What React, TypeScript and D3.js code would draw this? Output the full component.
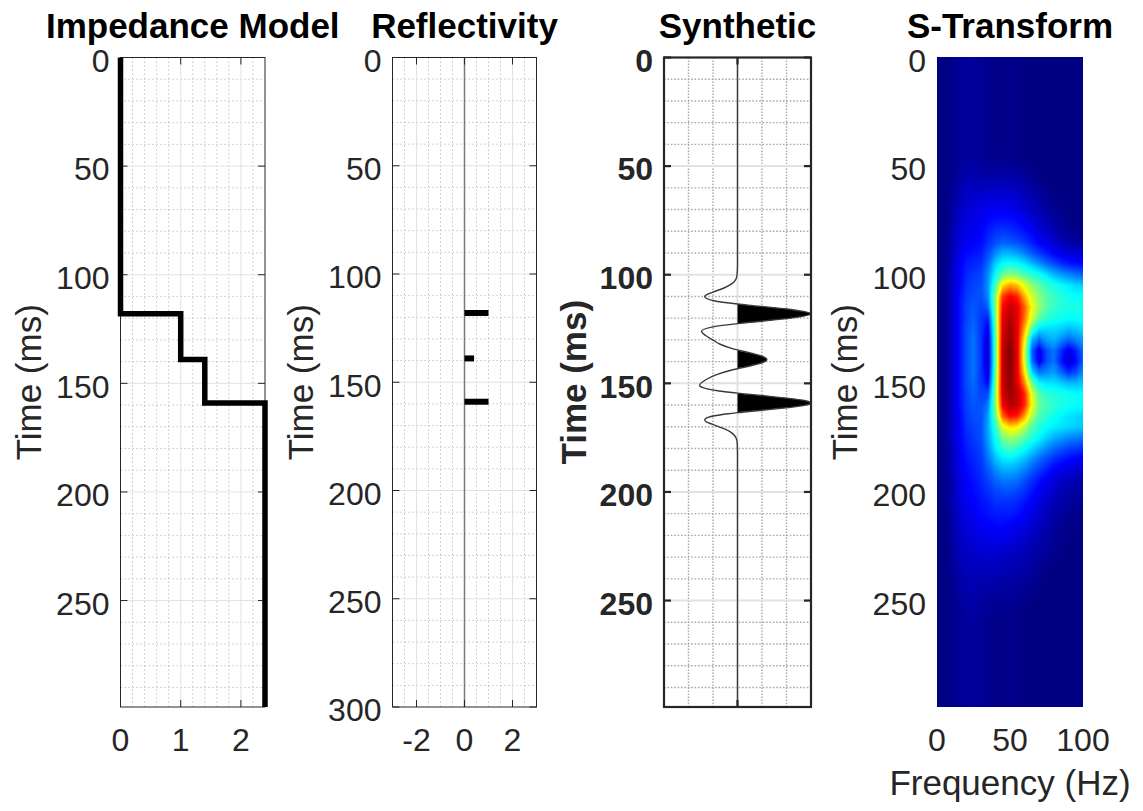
import React from 'react';
import * as d3 from 'd3';

// ---------------- data ----------------
const TIME_TICKS = [0, 50, 100, 150, 200, 250];
const REFL_TIME_TICKS = [0, 50, 100, 150, 200, 250, 300];

// Impedance model (step function in time)
const IMP_TIMES = [0, 118, 139, 159, 299];
const IMP_VALUES = [0, 1, 1.4, 2.4, 2.4];
const IMP_XTICKS = [0, 1, 2];

// Reflectivity spikes
const REFL_TIMES = [118, 139, 159];
const REFL_VALUES = [1, 0.4, 1];
const REFL_XTICKS = [-2, 0, 2];

// Synthetic trace (time ms, amplitude)
const SYN_TIMES = [0, 96, 100, 102, 104, 106, 108, 110, 112, 113.5, 114, 116, 118, 120, 122, 122.5, 124, 126, 128, 130, 132, 134, 134.6, 136, 138, 139, 140, 142, 143.3, 144, 146, 148, 151, 152, 154, 154.5, 156, 158, 159, 160, 162, 163.5, 164, 166, 167, 168, 170, 172, 174, 176, 178, 182, 299];
const SYN_AMPS = [0, 0, -0.02, -0.06, -0.21, -0.53, -1.0, -1.34, -0.96, 0, 0.43, 2.18, 3.0, 2.18, 0.41, 0, -1.0, -1.47, -1.3, -1.01, -0.71, -0.21, 0, 0.52, 1.11, 1.2, 1.11, 0.5, 0, -0.27, -0.85, -1.24, -1.55, -1.41, -0.43, 0, 1.32, 2.78, 3.0, 2.78, 1.34, 0, -0.38, -1.27, -1.34, -1.22, -0.75, -0.34, -0.12, -0.03, -0.01, 0, 0];

// S-Transform magnitude (normalised), frequency columns 0..100 Hz step 5
const ST_FREQS = [0, 5, 10, 15, 20, 25, 30, 35, 40, 45, 50, 55, 60, 65, 70, 75, 80, 85, 90, 95, 100];
const ST_TIMES = d3.range(0, 301, 5);
const ST_BG = [0, 0, 0.01, 0.02, 0.03, 0.03, 0.02, 0.015, 0.01, 0.01, 0.01, 0.01, 0, 0, 0, 0, 0, 0, 0, 0, 0];
const ST_ACTIVE_TIMES = [50, 55, 60, 65, 70, 75, 80, 85, 90, 95, 100, 105, 110, 115, 120, 125, 130, 135, 140, 145, 150, 155, 160, 165, 170, 175, 180, 185, 190, 195, 200, 205, 210, 215, 220, 225, 230, 235, 240, 245, 250, 255];
const ST_ACTIVE_ROWS = [
  [0, 0, 0.01, 0.025, 0.035, 0.035, 0.03, 0.025, 0.025, 0.025, 0.02, 0.02, 0.01, 0.005, 0, 0, 0, 0, 0, 0, 0],
  [0, 0, 0.01, 0.03, 0.045, 0.045, 0.04, 0.04, 0.04, 0.04, 0.04, 0.035, 0.025, 0.015, 0.005, 0, 0, 0, 0, 0, 0],
  [0, 0, 0.02, 0.04, 0.06, 0.06, 0.06, 0.065, 0.065, 0.065, 0.065, 0.055, 0.045, 0.03, 0.02, 0.01, 0, 0, 0, 0, 0],
  [0, 0, 0.02, 0.05, 0.07, 0.08, 0.08, 0.09, 0.09, 0.09, 0.09, 0.08, 0.06, 0.05, 0.03, 0.02, 0.01, 0, 0, 0, 0],
  [0, 0, 0.03, 0.06, 0.08, 0.09, 0.1, 0.11, 0.11, 0.12, 0.11, 0.1, 0.08, 0.06, 0.05, 0.03, 0.02, 0.01, 0, 0, 0],
  [0, 0, 0.03, 0.07, 0.09, 0.1, 0.11, 0.13, 0.14, 0.14, 0.14, 0.13, 0.11, 0.09, 0.07, 0.05, 0.03, 0.02, 0.01, 0, 0],
  [0, 0, 0.04, 0.08, 0.1, 0.11, 0.12, 0.15, 0.17, 0.18, 0.17, 0.16, 0.14, 0.12, 0.09, 0.07, 0.05, 0.03, 0.02, 0.01, 0.01],
  [0, 0.01, 0.04, 0.09, 0.11, 0.12, 0.13, 0.17, 0.2, 0.22, 0.21, 0.2, 0.18, 0.15, 0.12, 0.1, 0.08, 0.06, 0.04, 0.03, 0.02],
  [0, 0.01, 0.05, 0.1, 0.13, 0.14, 0.15, 0.2, 0.26, 0.3, 0.3, 0.28, 0.25, 0.21, 0.18, 0.15, 0.12, 0.1, 0.09, 0.08, 0.07],
  [0, 0.01, 0.05, 0.11, 0.15, 0.16, 0.17, 0.23, 0.33, 0.38, 0.39, 0.38, 0.35, 0.31, 0.27, 0.23, 0.2, 0.17, 0.15, 0.14, 0.13],
  [0, 0.01, 0.06, 0.12, 0.16, 0.18, 0.19, 0.26, 0.38, 0.48, 0.51, 0.49, 0.45, 0.42, 0.39, 0.35, 0.31, 0.28, 0.26, 0.24, 0.22],
  [0, 0.01, 0.06, 0.12, 0.17, 0.19, 0.2, 0.27, 0.45, 0.66, 0.72, 0.69, 0.6, 0.52, 0.47, 0.43, 0.4, 0.38, 0.36, 0.34, 0.33],
  [0, 0.01, 0.06, 0.13, 0.18, 0.2, 0.2, 0.26, 0.5, 0.82, 0.88, 0.84, 0.7, 0.58, 0.51, 0.46, 0.43, 0.41, 0.39, 0.38, 0.38],
  [0, 0.01, 0.06, 0.13, 0.19, 0.21, 0.19, 0.22, 0.5, 0.87, 0.93, 0.9, 0.78, 0.62, 0.52, 0.46, 0.43, 0.41, 0.4, 0.4, 0.4],
  [0, 0.01, 0.06, 0.13, 0.19, 0.22, 0.18, 0.15, 0.48, 0.9, 0.95, 0.9, 0.76, 0.58, 0.47, 0.42, 0.4, 0.39, 0.38, 0.38, 0.38],
  [0, 0.01, 0.06, 0.13, 0.2, 0.23, 0.18, 0.11, 0.46, 0.91, 0.97, 0.9, 0.7, 0.45, 0.35, 0.34, 0.34, 0.33, 0.31, 0.32, 0.34],
  [0, 0.01, 0.06, 0.13, 0.2, 0.24, 0.18, 0.08, 0.45, 0.92, 0.98, 0.9, 0.62, 0.3, 0.22, 0.28, 0.3, 0.26, 0.22, 0.25, 0.28],
  [0, 0.01, 0.06, 0.13, 0.2, 0.24, 0.18, 0.07, 0.45, 0.93, 1.0, 0.9, 0.58, 0.22, 0.1, 0.2, 0.24, 0.17, 0.1, 0.15, 0.23],
  [0, 0.01, 0.06, 0.13, 0.2, 0.24, 0.18, 0.07, 0.45, 0.93, 1.0, 0.9, 0.58, 0.24, 0.11, 0.2, 0.24, 0.15, 0.08, 0.13, 0.22],
  [0, 0.01, 0.06, 0.13, 0.2, 0.24, 0.18, 0.09, 0.46, 0.93, 0.99, 0.9, 0.64, 0.34, 0.24, 0.26, 0.28, 0.23, 0.17, 0.2, 0.26],
  [0, 0.01, 0.06, 0.13, 0.2, 0.23, 0.18, 0.13, 0.48, 0.93, 0.99, 0.91, 0.74, 0.48, 0.38, 0.35, 0.35, 0.33, 0.31, 0.31, 0.32],
  [0, 0.01, 0.06, 0.13, 0.19, 0.22, 0.19, 0.2, 0.5, 0.92, 0.97, 0.94, 0.84, 0.6, 0.46, 0.42, 0.41, 0.4, 0.39, 0.38, 0.38],
  [0, 0.01, 0.06, 0.13, 0.19, 0.21, 0.2, 0.25, 0.5, 0.88, 0.95, 0.93, 0.84, 0.62, 0.48, 0.44, 0.42, 0.4, 0.39, 0.38, 0.38],
  [0, 0.01, 0.06, 0.12, 0.18, 0.2, 0.2, 0.28, 0.47, 0.78, 0.87, 0.85, 0.72, 0.55, 0.45, 0.42, 0.39, 0.37, 0.35, 0.34, 0.33],
  [0, 0.01, 0.06, 0.12, 0.17, 0.19, 0.2, 0.29, 0.42, 0.6, 0.66, 0.64, 0.56, 0.46, 0.41, 0.38, 0.36, 0.35, 0.34, 0.33, 0.32],
  [0, 0.01, 0.06, 0.12, 0.16, 0.18, 0.2, 0.28, 0.39, 0.49, 0.53, 0.51, 0.46, 0.41, 0.37, 0.33, 0.3, 0.28, 0.26, 0.25, 0.24],
  [0, 0.01, 0.05, 0.11, 0.15, 0.17, 0.19, 0.26, 0.36, 0.42, 0.44, 0.42, 0.38, 0.34, 0.3, 0.26, 0.23, 0.21, 0.19, 0.18, 0.17],
  [0, 0.01, 0.05, 0.1, 0.14, 0.16, 0.18, 0.24, 0.31, 0.35, 0.36, 0.34, 0.31, 0.27, 0.23, 0.2, 0.17, 0.15, 0.13, 0.12, 0.11],
  [0, 0.01, 0.05, 0.1, 0.13, 0.15, 0.17, 0.21, 0.26, 0.29, 0.29, 0.28, 0.25, 0.21, 0.18, 0.15, 0.12, 0.1, 0.09, 0.08, 0.07],
  [0, 0.01, 0.04, 0.09, 0.12, 0.14, 0.16, 0.19, 0.22, 0.24, 0.24, 0.23, 0.2, 0.17, 0.14, 0.11, 0.09, 0.07, 0.06, 0.05, 0.04],
  [0, 0.01, 0.04, 0.09, 0.12, 0.13, 0.15, 0.17, 0.19, 0.2, 0.2, 0.19, 0.17, 0.14, 0.11, 0.09, 0.07, 0.05, 0.04, 0.03, 0.03],
  [0, 0.01, 0.04, 0.08, 0.11, 0.12, 0.14, 0.15, 0.17, 0.17, 0.17, 0.16, 0.14, 0.12, 0.09, 0.07, 0.05, 0.04, 0.03, 0.02, 0.02],
  [0, 0, 0.03, 0.08, 0.1, 0.11, 0.13, 0.14, 0.15, 0.15, 0.15, 0.14, 0.12, 0.1, 0.08, 0.06, 0.04, 0.03, 0.02, 0.01, 0.01],
  [0, 0, 0.03, 0.07, 0.09, 0.1, 0.12, 0.12, 0.13, 0.13, 0.12, 0.11, 0.1, 0.08, 0.06, 0.05, 0.03, 0.02, 0.01, 0.01, 0],
  [0, 0, 0.03, 0.06, 0.08, 0.09, 0.1, 0.11, 0.11, 0.11, 0.1, 0.09, 0.08, 0.06, 0.05, 0.04, 0.02, 0.01, 0.01, 0, 0],
  [0, 0, 0.02, 0.06, 0.07, 0.08, 0.09, 0.09, 0.09, 0.09, 0.08, 0.07, 0.06, 0.05, 0.04, 0.03, 0.02, 0.01, 0, 0, 0],
  [0, 0, 0.02, 0.05, 0.065, 0.07, 0.07, 0.075, 0.07, 0.07, 0.06, 0.055, 0.05, 0.04, 0.03, 0.02, 0.01, 0, 0, 0, 0],
  [0, 0, 0.02, 0.04, 0.06, 0.06, 0.06, 0.06, 0.06, 0.05, 0.05, 0.045, 0.04, 0.03, 0.02, 0.01, 0, 0, 0, 0, 0],
  [0, 0, 0.015, 0.035, 0.05, 0.05, 0.05, 0.05, 0.045, 0.04, 0.04, 0.035, 0.03, 0.02, 0.01, 0.005, 0, 0, 0, 0, 0],
  [0, 0, 0.01, 0.03, 0.045, 0.045, 0.04, 0.035, 0.035, 0.03, 0.03, 0.025, 0.02, 0.01, 0.005, 0, 0, 0, 0, 0, 0],
  [0, 0, 0.01, 0.025, 0.04, 0.04, 0.03, 0.025, 0.02, 0.02, 0.02, 0.015, 0.01, 0.005, 0, 0, 0, 0, 0, 0, 0],
  [0, 0, 0.01, 0.02, 0.035, 0.035, 0.025, 0.02, 0.015, 0.015, 0.015, 0.01, 0.005, 0, 0, 0, 0, 0, 0, 0, 0],
];
const ST_XTICKS = [0, 50, 100];

// ---------------- style ----------------
const FONT = '"Liberation Sans", Arial, Helvetica, sans-serif';
const AX = '#262626';
const GRID = '#e2e2e2';
const MINOR = '#c4c4c4';
const TICK_FS = 32;
const LABEL_FS = 35;
const TITLE_FS = 35;
const TOP = 57.5;
const BOTTOM = 707;
const TL = 7;

const JET = d3
  .scaleLinear<string>()
  .domain([0, 0.125, 0.375, 0.625, 0.875, 1])
  .range(['#000080', '#0000ff', '#00ffff', '#ffff00', '#ff0000', '#800000'])
  .clamp(true);

function minorTimes(max: number) {
  return d3.range(10, max, 10).filter((v) => v % 50 !== 0);
}

function Grid(props: {
  x: d3.ScaleLinear<number, number>;
  y: d3.ScaleLinear<number, number>;
  xMajor: number[];
  xMinor: number[];
  yMajor: number[];
  yMinor: number[];
  majorW?: number;
  hDash?: string;
  vDash?: string;
  minorColor?: string;
  minorW?: number;
}) {
  const { x, y, xMajor, xMinor, yMajor, yMinor } = props;
  const [x0, x1] = x.range();
  const [y0, y1] = y.range();
  const mw = props.majorW ?? 1;
  const mc = props.minorColor ?? MINOR;
  const mnw = props.minorW ?? 1;
  return (
    <g>
      {yMinor.map((v) => (
        <line key={'ym' + v} x1={x0} x2={x1} y1={y(v)} y2={y(v)} stroke={mc} strokeWidth={mnw} strokeDasharray={props.hDash ?? '1.5,2.5'} />
      ))}
      {xMinor.map((v) => (
        <line key={'xm' + v} x1={x(v)} x2={x(v)} y1={y0} y2={y1} stroke={mc} strokeWidth={mnw} strokeDasharray={props.vDash ?? '1.5,2.5'} />
      ))}
      {yMajor.map((v) => (
        <line key={'yM' + v} x1={x0} x2={x1} y1={y(v)} y2={y(v)} stroke={GRID} strokeWidth={mw} />
      ))}
      {xMajor.map((v) => (
        <line key={'xM' + v} x1={x(v)} x2={x(v)} y1={y0} y2={y1} stroke={GRID} strokeWidth={mw} />
      ))}
    </g>
  );
}

function Frame(props: {
  x: d3.ScaleLinear<number, number>;
  y: d3.ScaleLinear<number, number>;
  xTicks: number[];
  yTicks: number[];
  xLabels: boolean;
  bold?: boolean;
  width?: number;
}) {
  const { x, y, xTicks, yTicks } = props;
  const [x0, x1] = x.range();
  const [y0, y1] = y.range();
  const w = props.width ?? 1;
  const fw = props.bold ? 'bold' : 'normal';
  return (
    <g>
      <rect x={x0} y={y0} width={x1 - x0} height={y1 - y0} fill="none" stroke={AX} strokeWidth={w} />
      {yTicks.map((v) => (
        <g key={'yt' + v}>
          <line x1={x0} x2={x0 + TL} y1={y(v)} y2={y(v)} stroke={AX} strokeWidth={w} />
          <line x1={x1} x2={x1 - TL} y1={y(v)} y2={y(v)} stroke={AX} strokeWidth={w} />
          <text x={x0 - 11} y={y(v) + 14.3} textAnchor="end" fontSize={TICK_FS} fontWeight={fw} fill={AX} fontFamily={FONT}>
            {v}
          </text>
        </g>
      ))}
      {xTicks.map((v) => (
        <g key={'xt' + v}>
          <line x1={x(v)} x2={x(v)} y1={y1} y2={y1 - TL} stroke={AX} strokeWidth={w} />
          <line x1={x(v)} x2={x(v)} y1={y0} y2={y0 + TL} stroke={AX} strokeWidth={w} />
          {props.xLabels && (
            <text x={x(v)} y={751} textAnchor="middle" fontSize={TICK_FS} fontWeight={fw} fill={AX} fontFamily={FONT}>
              {v}
            </text>
          )}
        </g>
      ))}
    </g>
  );
}

function Titles(props: { x: d3.ScaleLinear<number, number>; title: string; bold?: boolean; labelOffset: number }) {
  const [x0, x1] = props.x.range();
  const cy = (TOP + BOTTOM) / 2;
  const lx = x0 - props.labelOffset;
  return (
    <g fontFamily={FONT}>
      <text x={(x0 + x1) / 2} y={38} textAnchor="middle" fontWeight="bold" fontSize={TITLE_FS} fill="#000">
        {props.title}
      </text>
      <text
        x={lx}
        y={cy}
        textAnchor="middle"
        fontSize={LABEL_FS}
        fontWeight={props.bold ? 'bold' : 'normal'}
        fill={AX}
        transform={`rotate(-90, ${lx}, ${cy})`}
      >
        Time (ms)
      </text>
    </g>
  );
}

export default function App() {
  const yT = d3.scaleLinear().domain([0, 299]).range([TOP, BOTTOM]);
  const yR = d3.scaleLinear().domain([0, 300]).range([TOP, BOTTOM]);
  const xImp = d3.scaleLinear().domain([0, 2.4]).range([120.5, 265]);
  const xRef = d3.scaleLinear().domain([-3, 3]).range([392.5, 536.5]);
  const xSyn = d3.scaleLinear().domain([-3, 3]).range([664, 811]);
  const xSt = d3.scaleLinear().domain([0, 100]).range([937, 1083]);

  // impedance
  const impPts = IMP_TIMES.map((t, i) => ({ t, v: IMP_VALUES[i] }));
  const impPath = d3
    .line<{ t: number; v: number }>()
    .x((d) => xImp(d.v))
    .y((d) => yT(d.t))
    .curve(d3.curveStepBefore)(impPts) as string;

  // synthetic
  const synPts = SYN_TIMES.map((t, i) => ({ t, a: SYN_AMPS[i] }));
  const synLine = d3
    .line<{ t: number; a: number }>()
    .x((d) => xSyn(d.a))
    .y((d) => yT(d.t))
    .curve(d3.curveMonotoneY)(synPts) as string;
  const synArea = d3
    .area<{ t: number; a: number }>()
    .y((d) => yT(d.t))
    .x0(() => xSyn(0))
    .x1((d) => xSyn(Math.max(0, d.a)))
    .curve(d3.curveMonotoneY)(synPts) as string;

  // S-transform contours
  const values: number[] = [];
  ST_TIMES.forEach((t) => {
    const i = ST_ACTIVE_TIMES.indexOf(t);
    const row = i >= 0 ? ST_ACTIVE_ROWS[i] : ST_BG;
    row.forEach((v) => values.push(v));
  });
  const nLevels = 160;
  const step = 1 / nLevels;
  const thresholds = d3.range(0, nLevels + 1).map((k) => k * step);
  const contours = d3.contours().size([ST_FREQS.length, ST_TIMES.length]).thresholds(thresholds)(values);
  const fStep = ST_FREQS[1] - ST_FREQS[0];
  const tStep = ST_TIMES[1] - ST_TIMES[0];
  const proj = d3.geoTransform({
    point(px: number, py: number) {
      (this as any).stream.point(xSt(ST_FREQS[0] + (px - 0.5) * fStep), yT(ST_TIMES[0] + (py - 0.5) * tStep));
    },
  });
  const geo = d3.geoPath(proj);

  return (
    <svg
      width={1143}
      height={811}
      style={{ position: 'absolute', left: 0, top: 0, background: '#fff' }}
      xmlns="http://www.w3.org/2000/svg"
    >
      <rect x={0} y={0} width={1143} height={811} fill="#fff" />
      <defs>
        <clipPath id="stclip">
          <rect x={937} y={57} width={1083 - 937} height={707 - 57} />
        </clipPath>
      </defs>

      {/* Impedance Model */}
      <Grid
        x={xImp}
        y={yT}
        xMajor={[1, 2]}
        xMinor={d3.range(0.2, 2.4, 0.2).filter((v) => Math.abs(v - 1) > 0.01 && Math.abs(v - 2) > 0.01)}
        yMajor={[50, 100, 150, 200, 250]}
        yMinor={minorTimes(299)}
      />
      <Frame x={xImp} y={yT} xTicks={IMP_XTICKS} yTicks={TIME_TICKS} xLabels />
      <path d={impPath} fill="none" stroke="#000" strokeWidth={5.5} strokeLinejoin="miter" />
      <Titles x={xImp} title="Impedance Model" labelOffset={80} />

      {/* Reflectivity */}
      <Grid
        x={xRef}
        y={yR}
        xMajor={[-2, 2]}
        xMinor={[-2.5, -1.5, -1, -0.5, 0.5, 1, 1.5, 2.5]}
        yMajor={[50, 100, 150, 200, 250]}
        yMinor={minorTimes(300)}
      />
      <line x1={xRef(0)} x2={xRef(0)} y1={TOP} y2={BOTTOM} stroke="#7a7a7a" strokeWidth={1.5} />
      {REFL_TIMES.map((t, i) => (
        <line key={'r' + t} x1={xRef(0)} x2={xRef(REFL_VALUES[i])} y1={yR(t)} y2={yR(t)} stroke="#000" strokeWidth={6} />
      ))}
      <Frame x={xRef} y={yR} xTicks={REFL_XTICKS} yTicks={REFL_TIME_TICKS} xLabels />
      <Titles x={xRef} title="Reflectivity" labelOffset={80} />

      {/* Synthetic */}
      <Grid
        x={xSyn}
        y={yT}
        xMajor={[0]}
        xMinor={[-2, -1, 1, 2]}
        yMajor={[50, 100, 150, 200, 250]}
        yMinor={minorTimes(299)}
        majorW={2}
        hDash="1.6,1.8"
        vDash="1.6,1.4"
        minorColor="#a9a9a9"
        minorW={1.4}
      />
      <path d={synArea} fill="#000" stroke="none" />
      <path d={synLine} fill="none" stroke="#3a3a3a" strokeWidth={1.4} />
      <Frame x={xSyn} y={yT} xTicks={[0]} yTicks={TIME_TICKS} xLabels={false} bold width={2.2} />
      <Titles x={xSyn} title="Synthetic" bold labelOffset={78} />

      {/* S-Transform */}
      <g clipPath="url(#stclip)">
        {contours.map((c, i) => (
          <path key={'c' + i} d={geo(c as any) as string} fill={JET(Math.min(1, c.value + step / 2))} stroke="none" />
        ))}
      </g>
      {TIME_TICKS.map((v) => (
        <text key={'st' + v} x={937 - 11} y={yT(v) + 14.3} textAnchor="end" fontSize={TICK_FS} fill={AX} fontFamily={FONT}>
          {v}
        </text>
      ))}
      {ST_XTICKS.map((v) => (
        <text key={'sx' + v} x={xSt(v)} y={751} textAnchor="middle" fontSize={TICK_FS} fill={AX} fontFamily={FONT}>
          {v}
        </text>
      ))}
      <text x={1010} y={795} textAnchor="middle" fontSize={LABEL_FS} fill={AX} fontFamily={FONT}>
        Frequency (Hz)
      </text>
      <Titles x={xSt} title="S-Transform" labelOffset={80} />
    </svg>
  );
}
